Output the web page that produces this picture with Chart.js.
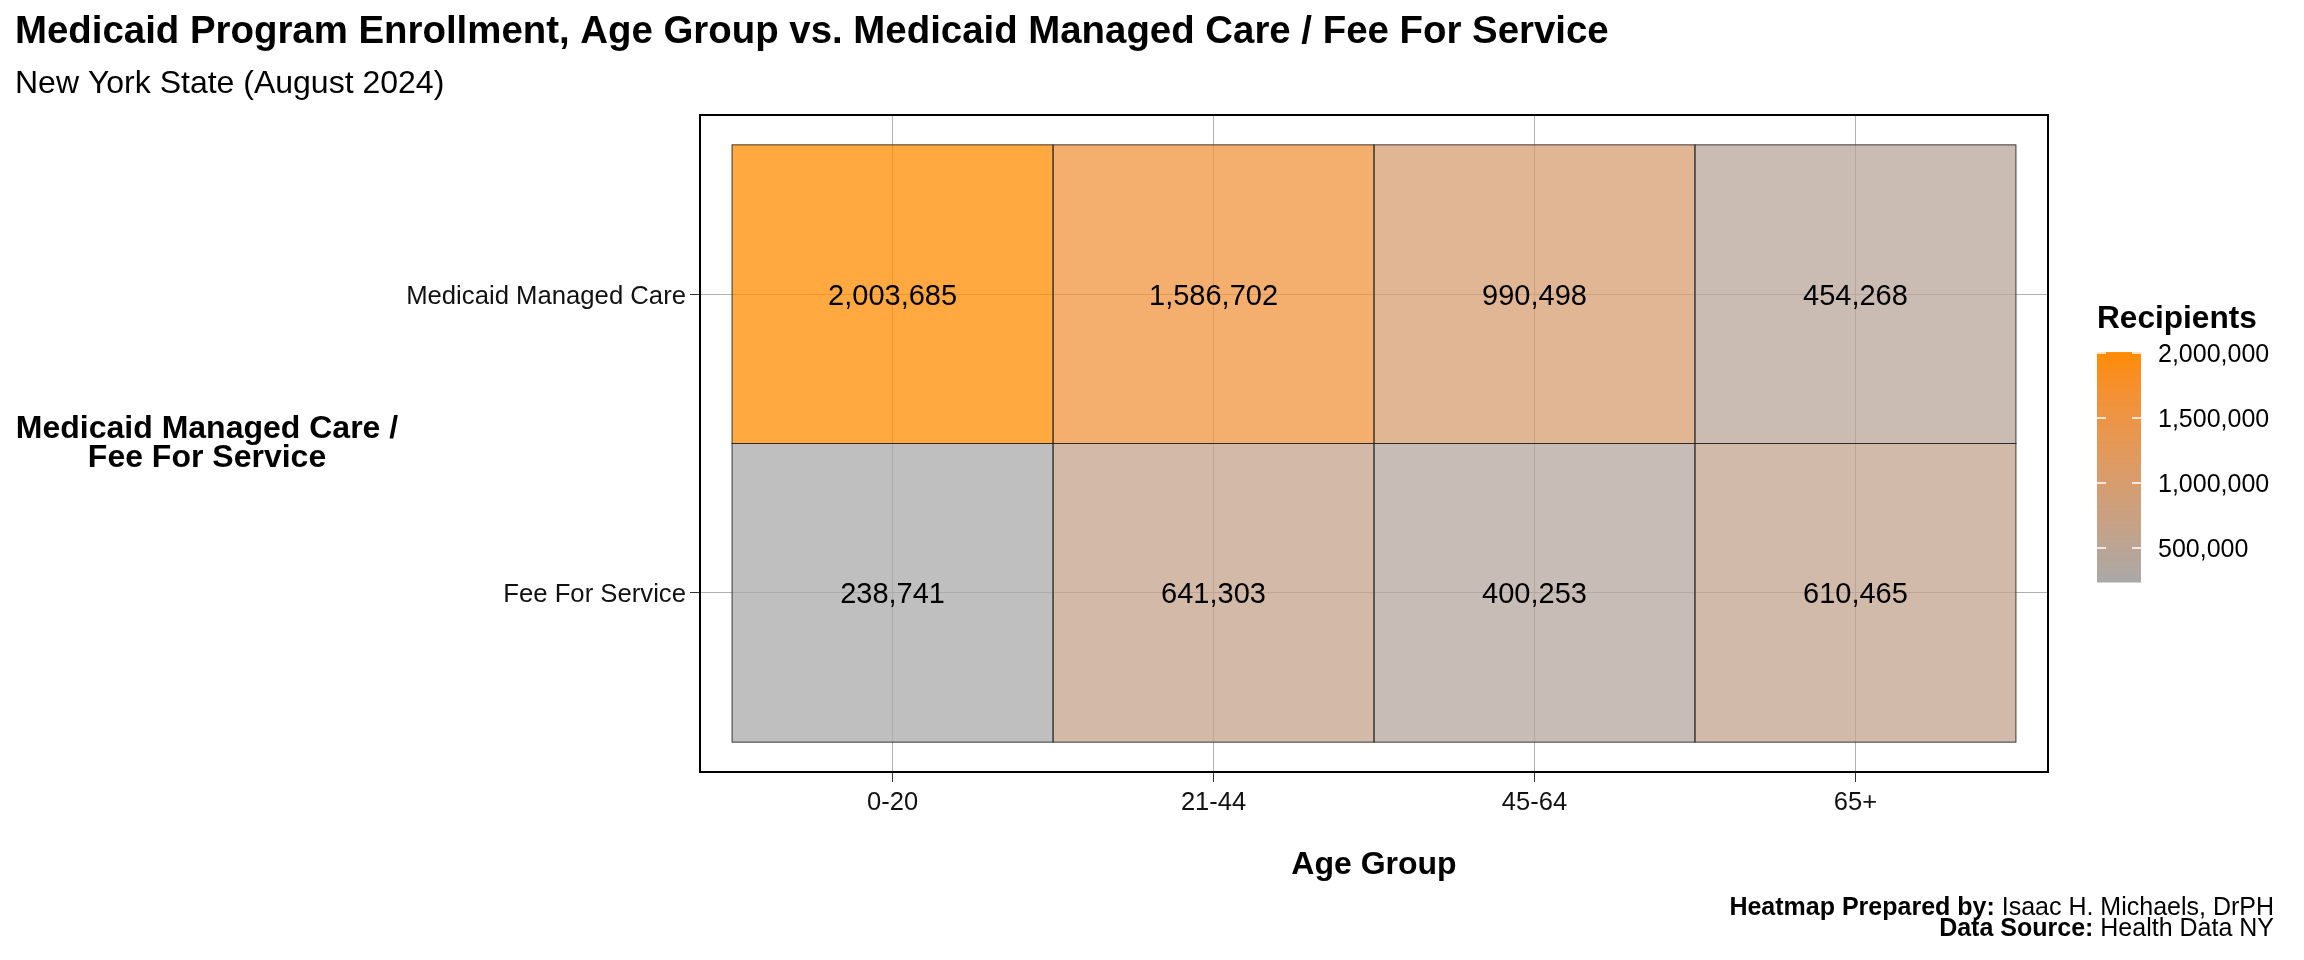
<!DOCTYPE html>
<html><head><meta charset="utf-8">
<script src="https://cdn.jsdelivr.net/npm/chart.js@4.4.1/dist/chart.umd.min.js"></script>
<style>html,body{margin:0;padding:0;background:#fff;}#wrap{width:2304px;height:960px;position:relative;}</style>
</head><body><div id="wrap"><canvas id="c" width="2304" height="960"></canvas></div>
<script>
const ageGroups = ['0-20', '21-44', '45-64', '65+'];
const programs = ['Medicaid Managed Care', 'Fee For Service'];
const managedCare = [2003685, 1586702, 990498, 454268];
const feeForService = [238741, 641303, 400253, 610465];
const legendBreaks = [500000, 1000000, 1500000, 2000000];
const seriesValues = [managedCare, feeForService];

const FONT = '"Liberation Sans", Arial, Helvetica, sans-serif';
const LOW = [169, 169, 169], HIGH = [255, 140, 0], ALPHA = 0.75;
const allVals = managedCare.concat(feeForService);
const vMin = Math.min(...allVals), vMax = Math.max(...allVals);

function s2l(c){c/=255;return c<=0.04045?c/12.92:Math.pow((c+0.055)/1.055,2.4);}
function l2s(c){const v=c<=0.0031308?12.92*c:1.055*Math.pow(c,1/2.4)-0.055;return Math.round(Math.max(0,Math.min(1,v))*255);}
function toLab(rgb){const R=s2l(rgb[0]),G=s2l(rgb[1]),B=s2l(rgb[2]);
 const X=(0.4124*R+0.3576*G+0.1805*B)/0.95047,Y=(0.2126*R+0.7152*G+0.0722*B),Z=(0.0193*R+0.1192*G+0.9505*B)/1.08883;
 const f=t=>t>0.008856?Math.cbrt(t):7.787*t+16/116;return [116*f(Y)-16,500*(f(X)-f(Y)),200*(f(Y)-f(Z))];}
function fromLab(lab){const fy=(lab[0]+16)/116,fx=fy+lab[1]/500,fz=fy-lab[2]/200;
 const fi=t=>t*t*t>0.008856?t*t*t:(t-16/116)/7.787;const X=fi(fx)*0.95047,Y=fi(fy),Z=fi(fz)*1.08883;
 return [l2s(3.2406*X-1.5372*Y-0.4986*Z),l2s(-0.9689*X+1.8758*Y+0.0415*Z),l2s(0.0557*X-0.2040*Y+1.0570*Z)];}
const LAB_LO=toLab(LOW),LAB_HI=toLab(HIGH);
function colorFor(v){const t=Math.max(0,Math.min(1,(v-vMin)/(vMax-vMin)));
 return fromLab([0,1,2].map(k=>LAB_LO[k]+(LAB_HI[k]-LAB_LO[k])*t));}
function rgba(c,a){return 'rgba('+c[0]+','+c[1]+','+c[2]+','+a+')';}
const fmt = v => v.toLocaleString('en-US');

const nRows = programs.length;
const datasets = programs.map((p, r) => ({
  label: p,
  data: seriesValues[r].map((v, i) => ({x: i, y: [nRows - 1 - r, nRows - r]})),
  backgroundColor: seriesValues[r].map(v => rgba(colorFor(v), ALPHA)),
  borderWidth: 0,
  grouped: false,
  categoryPercentage: 1,
  barPercentage: 1
}));

const deco = {
  id: 'deco',
  afterDatasetsDraw(chart) {
    const ctx = chart.ctx;
    ctx.save();
    chart.data.datasets.forEach((ds, di) => {
      const meta = chart.getDatasetMeta(di);
      meta.data.forEach((el, i) => {
        const p = el.getProps(['x', 'y', 'base', 'width'], true);
        const top = Math.min(p.y, p.base), h = Math.abs(p.base - p.y);
        ctx.strokeStyle = 'rgba(40,40,40,0.85)';
        ctx.lineWidth = 1;
        ctx.strokeRect(p.x - p.width / 2, top, p.width, h);
        ctx.fillStyle = '#000';
        ctx.font = '29px ' + FONT;
        ctx.textAlign = 'center';
        ctx.textBaseline = 'alphabetic';
        ctx.fillText(fmt(seriesValues[di][i]), p.x, top + h / 2 + 10.5);
      });
    });
    const a = chart.chartArea;
    ctx.strokeStyle = '#000';
    ctx.lineWidth = 2;
    ctx.strokeRect(a.left, a.top, a.right - a.left, a.bottom - a.top);
    ctx.restore();
  },
  afterDraw(chart) {
    const ctx = chart.ctx;
    ctx.save();
    ctx.fillStyle = '#000';
    ctx.textBaseline = 'alphabetic';
    ctx.textAlign = 'left';
    ctx.font = 'bold 38.4px ' + FONT;
    ctx.fillText('Medicaid Program Enrollment, Age Group vs. Medicaid Managed Care / Fee For Service', 15, 43);
    ctx.font = '32px ' + FONT;
    ctx.fillText('New York State (August 2024)', 15, 93);
    // y axis title
    ctx.font = 'bold 32px ' + FONT;
    ctx.textAlign = 'center';
    ctx.fillText('Medicaid Managed Care /', 207, 438);
    ctx.fillText('Fee For Service', 207, 467);
    // x axis title
    const a = chart.chartArea;
    ctx.fillText('Age Group', (a.left + a.right) / 2, 874);
    // caption
    const capRight = 2274;
    const cap = [['Heatmap Prepared by:', ' Isaac H. Michaels, DrPH', 915], ['Data Source:', ' Health Data NY', 936]];
    cap.forEach(([b, r, y]) => {
      ctx.font = '25px ' + FONT;
      const wr = ctx.measureText(r).width;
      ctx.textAlign = 'right';
      ctx.fillText(r, capRight, y);
      ctx.font = 'bold 25px ' + FONT;
      ctx.fillText(b, capRight - wr, y);
    });
    // legend
    const lx = 2097, lw = 44, yTop = 352.6, yBot = 582;
    const yOf = v => yBot - (v - vMin) / (vMax - vMin) * (yBot - yTop);
    ctx.textAlign = 'left';
    ctx.font = 'bold 31.6px ' + FONT;
    ctx.fillText('Recipients', lx, 328);
    const steps = 300;
    for (let k = 0; k < steps; k++) {
      const v0 = vMin + (vMax - vMin) * k / steps, v1 = vMin + (vMax - vMin) * (k + 1) / steps;
      ctx.fillStyle = rgba(colorFor((v0 + v1) / 2), 1);
      const y1 = yOf(v1), y0 = yOf(v0);
      ctx.fillRect(lx, y1 - 0.5, lw, y0 - y1 + 1);
    }
    ctx.strokeStyle = '#fff';
    ctx.lineWidth = 1.5;
    ctx.fillStyle = '#000';
    ctx.font = '25px ' + FONT;
    legendBreaks.forEach(b => {
      const y = yOf(b);
      ctx.beginPath();
      ctx.moveTo(lx, y); ctx.lineTo(lx + 9, y);
      ctx.moveTo(lx + lw - 9, y); ctx.lineTo(lx + lw, y);
      ctx.stroke();
      ctx.fillText(fmt(b), 2158, y + 9);
    });
    ctx.restore();
  }
};

Chart.defaults.font.family = FONT;
new Chart(document.getElementById('c'), {
  type: 'bar',
  data: {datasets},
  options: {
    responsive: false,
    devicePixelRatio: 1,
    animation: false,
    layout: {padding: {top: 115, right: 256, left: 0, bottom: 0}},
    plugins: {legend: {display: false}, tooltip: {enabled: false}, title: {display: false}},
    scales: {
      x: {
        type: 'linear', min: -0.6, max: 3.6, offset: false,
        afterBuildTicks: s => { s.ticks = ageGroups.map((g, i) => ({value: i})); },
        afterFit: s => { s.height = 188; },
        ticks: {callback: v => ageGroups[v], font: {size: 25.5}, color: '#111', padding: 6, maxRotation: 0, autoSkip: false},
        grid: {offset: false, color: '#b0b0b0', lineWidth: 1, tickLength: 10, tickColor: '#333', drawTicks: true},
        border: {display: false}
      },
      y: {
        type: 'linear', min: -0.1, max: nRows + 0.1, offset: false,
        afterBuildTicks: s => { s.ticks = programs.map((p, r) => ({value: nRows - 1 - r + 0.5})); },
        afterFit: s => { s.width = 700; },
        ticks: {callback: v => programs[nRows - 1 - Math.floor(v)], font: {size: 25.7}, color: '#111', padding: 4, labelOffset: 2.5, autoSkip: false},
        grid: {offset: false, color: '#b0b0b0', lineWidth: 1, tickLength: 10, tickColor: '#333', drawTicks: true},
        border: {display: false}
      }
    }
  },
  plugins: [deco]
});
</script></body></html>
